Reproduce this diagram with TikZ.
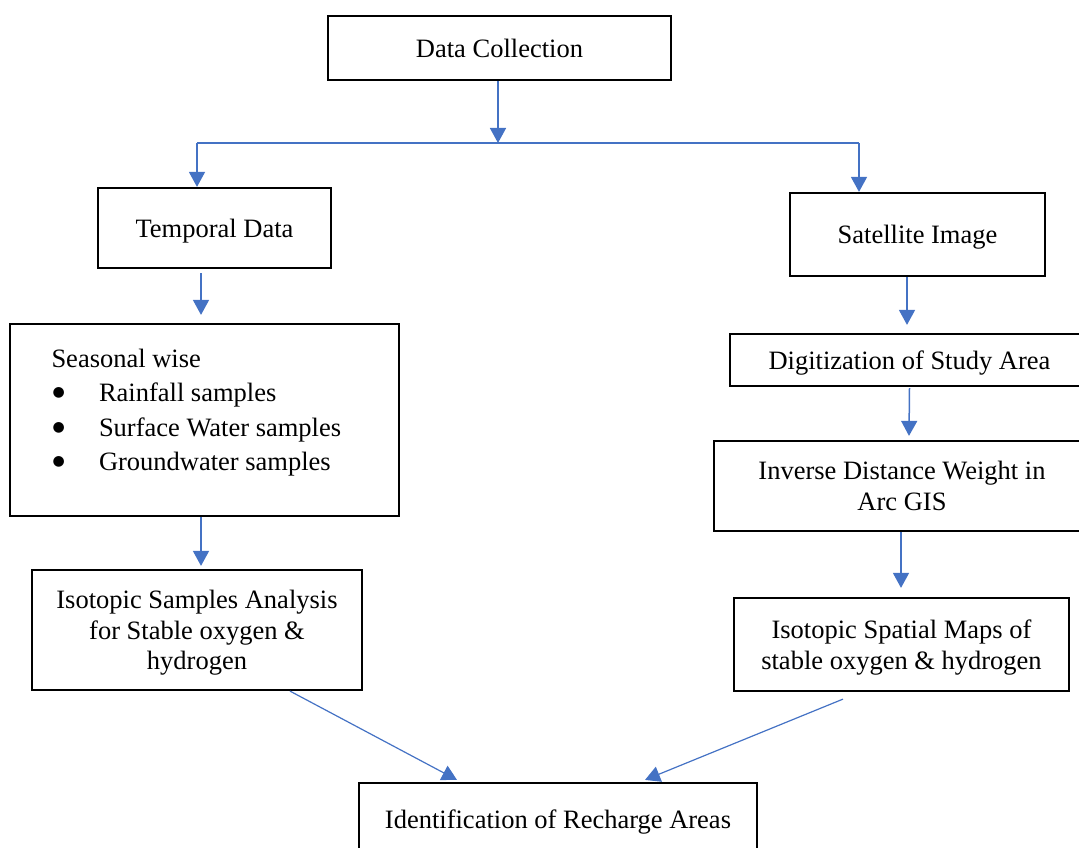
\documentclass[tikz,border=0pt]{standalone}
\usepackage{fontspec}
\setmainfont{Liberation Serif}
\newfontfamily\symfont{DejaVu Sans}
\usetikzlibrary{positioning,arrows.meta}
\definecolor{flowblue}{RGB}{68,114,196}

\begin{document}
\begin{tikzpicture}[
  x=1pt, y=-1pt,
  frame/.style={rectangle, draw=black, line width=2.2pt, inner sep=0pt, align=center,
              font=\fontsize{26.5pt}{30.5pt}\selectfont},
  box/.style={frame, text depth=0pt},
  arr/.style={-{Triangle[width=16pt,length=15pt]}, line width=1.5pt, draw=flowblue},
  link/.style={line width=1.5pt, draw=flowblue}
]
\newcommand{\bul}{\makebox[47.5pt][l]{\hspace{1pt}\raisebox{5pt}{\symfont\fontsize{14pt}{14pt}\selectfont ●}}}
\useasboundingbox (0,0) rectangle (1079,848);
\clip (0,0) rectangle (1079,848);
\node[box, minimum width=343pt, minimum height=64pt] (dc) at (499.5,48) {Data Collection};
\node[box, minimum width=233pt, minimum height=80pt] (td) at (214.5,228) {Temporal Data};
\node[box, minimum width=255pt, minimum height=83pt] (si) at (917.5,234.5) {Satellite Image};
\node[frame, minimum width=389pt, minimum height=192pt] (sw) at (204.5,420)
  {\begin{minipage}[c][192pt][t]{306pt}\raggedright\baselineskip=34.4pt
   \vspace*{25pt}Seasonal wise\\
   \bul Rainfall samples\\
   \bul Surface Water samples\\
   \bul Groundwater samples
   \end{minipage}};
\node[box, minimum width=359pt, minimum height=52pt] (dg) at (909.5,360) {Digitization of Study Area};
\node[box, minimum width=376pt, minimum height=90pt] (idw) at (902,486) {Inverse Distance Weight in\\Arc GIS};
\node[box, minimum width=330pt, minimum height=120pt] (isa) at (197,630) {Isotopic Samples Analysis\\for Stable oxygen \&\\hydrogen};
\node[box, minimum width=335pt, minimum height=93pt] (ism) at (901.5,644.5) {Isotopic Spatial Maps of\\stable oxygen \& hydrogen};
\node[box, minimum width=398pt, minimum height=72pt] (ira) at (558,819) {Identification of Recharge Areas};
% split below the first box
\coordinate (split) at (498,143);
\coordinate (jl) at (197,143);
\coordinate (jr) at (859,143);
\draw[link] (jl) -- (jr);
\draw[arr] (dc.south -| split) -- (split);
\draw[arr] (jl) -- (jl |- td.north);
\draw[arr] (jr) -- (jr |- si.north);
% left branch
\draw[arr] ([xshift=-13.5pt,yshift=-4pt]td.south) -- ([xshift=-3.5pt,yshift=8pt]sw.north);
\draw[arr] ([xshift=-3.5pt]sw.south) -- ([xshift=4pt,yshift=3pt]isa.north);
% right branch
\draw[arr] ([xshift=-10.5pt]si.south) -- ([xshift=-2.5pt,yshift=8pt]dg.north);
\draw[arr] ([yshift=-1pt]dg.south) -- ([xshift=7pt,yshift=4pt]idw.north);
\draw[arr] ([xshift=-1pt]idw.south) -- ([xshift=-0.5pt,yshift=9pt]ism.north);
% merge
\draw[arr, line width=1.2pt] ([xshift=93pt]isa.south) -- ([xshift=-101pt,yshift=2pt]ira.north);
\draw[arr, line width=1.2pt] ([xshift=-58.5pt,yshift=-7pt]ism.south) -- ([xshift=87pt,yshift=2pt]ira.north);
\end{tikzpicture}
\end{document}
